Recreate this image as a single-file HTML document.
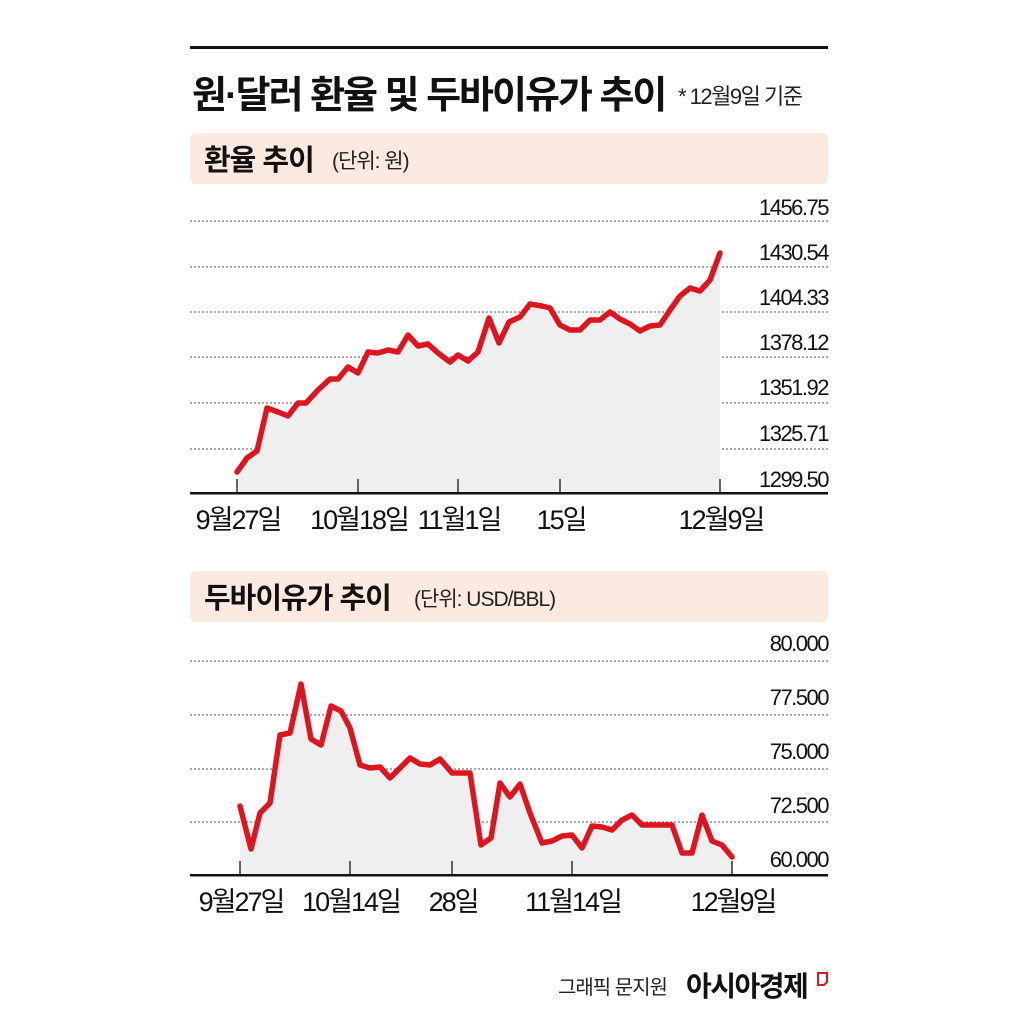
<!DOCTYPE html>
<html><head><meta charset="utf-8"><style>
body{margin:0;background:#fff;}
svg text{font-family:"Liberation Sans","Noto Sans CJK KR",sans-serif;}
</style></head><body>
<svg width="1019" height="1019" viewBox="0 0 1019 1019" xmlns="http://www.w3.org/2000/svg">
<rect width="1019" height="1019" fill="#fff"/>
<rect x="190" y="46" width="638" height="3" fill="#111"/>
<text x="192" y="108" font-size="38" font-weight="bold" fill="#111" letter-spacing="-2">원·달러 환율 및 두바이유가 추이</text>
<text x="678" y="104" font-size="22" fill="#222" letter-spacing="-1.5">* 12월9일 기준</text>

<rect x="190" y="133" width="638" height="51" rx="6" fill="#fceae0"/>
<text x="204" y="170" font-size="29" font-weight="bold" fill="#111" letter-spacing="-1">환율 추이</text>
<text x="332" y="168" font-size="21" fill="#222" letter-spacing="-1">(단위: 원)</text>

<g stroke="#555" stroke-width="1" stroke-dasharray="2,2">
<line x1="190" y1="221" x2="828" y2="221"/><line x1="190" y1="267" x2="828" y2="267"/>
<line x1="190" y1="312" x2="828" y2="312"/><line x1="190" y1="357" x2="828" y2="357"/>
<line x1="190" y1="403" x2="828" y2="403"/><line x1="190" y1="449" x2="828" y2="449"/>
</g>
<g font-size="22" fill="#111" text-anchor="end" letter-spacing="-1.5">
<text x="828" y="215">1456.75</text><text x="828" y="260">1430.54</text><text x="828" y="305">1404.33</text>
<text x="828" y="350">1378.12</text><text x="828" y="395">1351.92</text><text x="828" y="441">1325.71</text><text x="828" y="487">1299.50</text>
</g>
<polygon fill="#efefef" points="237,493 237,472 247,458 257,451 267,408 278,412 288,416 298,403 306,403 318,390 330,379 338,379 348,367 358,373 368,352 378,353 388,350 398,352 408,335 418,346 428,344 438,353 450,362 458,355 468,361 478,352 489,318 499,343 509,322 520,317 530,304 542,306 550,308 560,325 570,330 580,330 590,320 600,320 610,312 620,319 630,324 640,331 650,326 660,325 670,310 680,296 690,288 700,291 710,280 720,253 720,493"/>
<polyline fill="none" stroke="#e0141e" stroke-width="5.5" stroke-linejoin="round" stroke-linecap="round" points="237,472 247,458 257,451 267,408 278,412 288,416 298,403 306,403 318,390 330,379 338,379 348,367 358,373 368,352 378,353 388,350 398,352 408,335 418,346 428,344 438,353 450,362 458,355 468,361 478,352 489,318 499,343 509,322 520,317 530,304 542,306 550,308 560,325 570,330 580,330 590,320 600,320 610,312 620,319 630,324 640,331 650,326 660,325 670,310 680,296 690,288 700,291 710,280 720,253"/>
<g stroke="#333" stroke-width="1.5">
<line x1="237" y1="479" x2="237" y2="493"/><line x1="358" y1="479" x2="358" y2="493"/><line x1="458" y1="479" x2="458" y2="493"/><line x1="560" y1="479" x2="560" y2="493"/><line x1="720" y1="479" x2="720" y2="493"/>
</g>
<rect x="190" y="492" width="638" height="2.5" fill="#111"/>
<g font-size="27" fill="#111" text-anchor="middle" letter-spacing="-2">
<text x="238" y="529">9월27일</text><text x="359" y="529">10월18일</text><text x="459" y="529">11월1일</text><text x="561" y="529">15일</text><text x="721" y="529">12월9일</text>
</g>

<rect x="190" y="571" width="638" height="51" rx="6" fill="#fceae0"/>
<text x="204" y="608" font-size="29" font-weight="bold" fill="#111" letter-spacing="-1">두바이유가 추이</text>
<text x="414" y="606" font-size="21" fill="#222" letter-spacing="-1">(단위: USD/BBL)</text>

<g stroke="#555" stroke-width="1" stroke-dasharray="2,2">
<line x1="190" y1="661" x2="828" y2="661"/><line x1="190" y1="715" x2="828" y2="715"/>
<line x1="190" y1="769" x2="828" y2="769"/><line x1="190" y1="822" x2="828" y2="822"/>
</g>
<g font-size="22" fill="#111" text-anchor="end" letter-spacing="-1.5">
<text x="828" y="651">80.000</text><text x="828" y="705">77.500</text><text x="828" y="759">75.000</text><text x="828" y="813">72.500</text><text x="828" y="867">60.000</text>
</g>
<polygon fill="#efefef" points="240,875 240,806 251,849 260,813 270,803 280,735 290,733 301,684 311,739 321,745 331,706 341,711 350,728 360,765 370,768 380,767 390,778 400,768 410,758 420,764 430,765 440,759 452,773 462,773 470,773 481,845 491,838 500,783 510,797 520,784 530,813 542,843 552,841 562,836 572,835 582,848 592,826 602,827 612,830 622,820 632,815 642,825 652,825 662,825 672,825 682,853 692,853 702,815 712,841 722,845 732,857 732,875"/>
<polyline fill="none" stroke="#e0141e" stroke-width="5.5" stroke-linejoin="round" stroke-linecap="round" points="240,806 251,849 260,813 270,803 280,735 290,733 301,684 311,739 321,745 331,706 341,711 350,728 360,765 370,768 380,767 390,778 400,768 410,758 420,764 430,765 440,759 452,773 462,773 470,773 481,845 491,838 500,783 510,797 520,784 530,813 542,843 552,841 562,836 572,835 582,848 592,826 602,827 612,830 622,820 632,815 642,825 652,825 662,825 672,825 682,853 692,853 702,815 712,841 722,845 732,857"/>
<g stroke="#333" stroke-width="1.5">
<line x1="240" y1="861" x2="240" y2="875"/><line x1="350" y1="861" x2="350" y2="875"/><line x1="452" y1="861" x2="452" y2="875"/><line x1="572" y1="861" x2="572" y2="875"/><line x1="732" y1="861" x2="732" y2="875"/>
</g>
<rect x="190" y="874" width="638" height="2.5" fill="#111"/>
<g font-size="27" fill="#111" text-anchor="middle" letter-spacing="-2">
<text x="241" y="911">9월27일</text><text x="351" y="911">10월14일</text><text x="453" y="911">28일</text><text x="573" y="911">11월14일</text><text x="733" y="911">12월9일</text>
</g>

<text x="558" y="994" font-size="20" fill="#222" letter-spacing="-1">그래픽 문지원</text>
<text x="686" y="996" font-size="28" font-weight="bold" fill="#111" letter-spacing="-1.5">아시아경제</text>
<path d="M818 973 h9 v9 l-3 3 h-6 z" fill="none" stroke="#e0141e" stroke-width="2"/>
</svg>
</body></html>
